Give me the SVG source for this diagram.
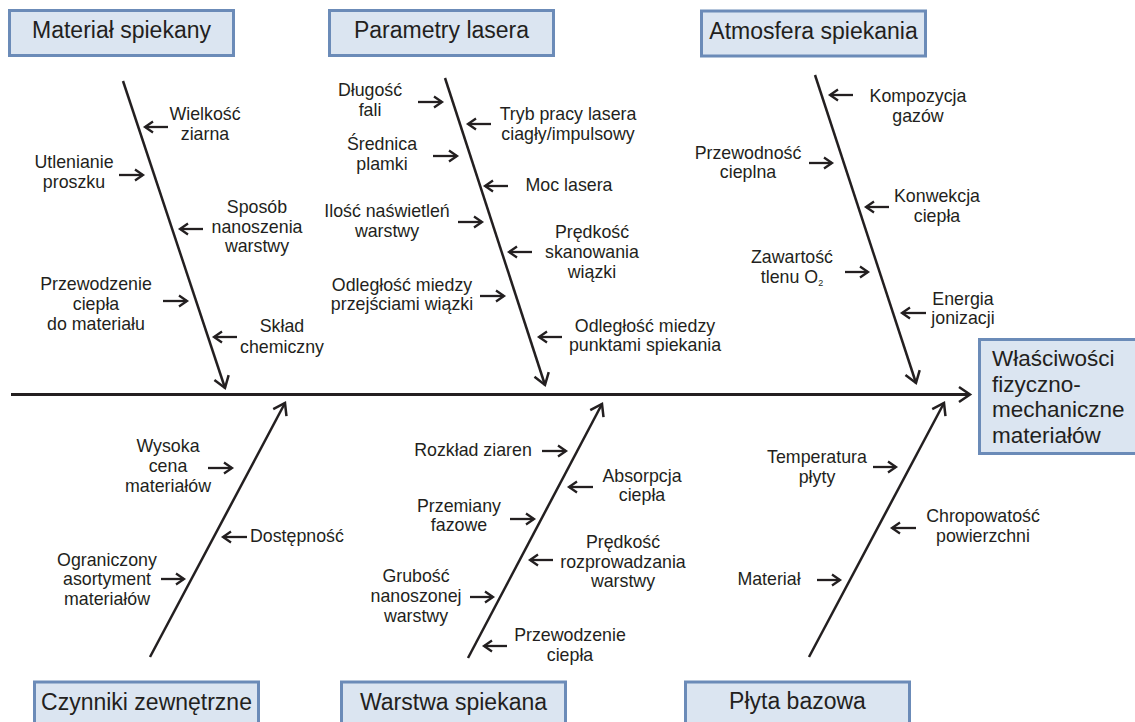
<svg xmlns="http://www.w3.org/2000/svg" width="1135" height="722" viewBox="0 0 1135 722">
<style>
.box{fill:#dbe5f1;stroke:#6b8bb8;stroke-width:3}
.title{font-family:"Liberation Sans",Arial,sans-serif;font-size:23px;fill:#231f20;text-anchor:middle}
.eff{font-family:"Liberation Sans",Arial,sans-serif;font-size:22.5px;fill:#231f20}
.lbl{font-family:"Liberation Sans",Arial,sans-serif;font-size:17.8px;fill:#231f20;text-anchor:middle}
.spine{stroke:#231f20;stroke-width:3;fill:none}
.bone{stroke:#231f20;stroke-width:2.5;fill:none}
.sm{stroke:#231f20;stroke-width:2.3;fill:none}
</style>
<defs>
<marker id="ah" markerUnits="userSpaceOnUse" markerWidth="20" markerHeight="20" refX="8" refY="0" orient="auto" overflow="visible">
<path d="M0,-5.5 L8,0 L0,5.5" fill="none" stroke="#231f20" stroke-width="2.3"/>
</marker>
<marker id="ahb" markerUnits="userSpaceOnUse" markerWidth="20" markerHeight="20" refX="11" refY="0" orient="auto" overflow="visible">
<path d="M0,-7.5 L11,0 L0,7.5" fill="none" stroke="#231f20" stroke-width="2.5"/>
</marker>
</defs>

<g id="connectors">
<line class="spine" x1="11" y1="394.5" x2="970" y2="394.5" marker-end="url(#ahb)"/>
<line class="bone" x1="123" y1="81" x2="225" y2="388" marker-end="url(#ahb)"/>
<line class="bone" x1="445" y1="78" x2="545" y2="385" marker-end="url(#ahb)"/>
<line class="bone" x1="815" y1="75" x2="916" y2="383" marker-end="url(#ahb)"/>
<line class="bone" x1="150" y1="657" x2="285" y2="403" marker-end="url(#ahb)"/>
<line class="bone" x1="468" y1="658" x2="602" y2="404" marker-end="url(#ahb)"/>
<line class="bone" x1="809" y1="657" x2="944" y2="403" marker-end="url(#ahb)"/>
<!-- small arrows: material -->
<line class="sm" x1="168" y1="127" x2="145" y2="127" marker-end="url(#ah)"/>
<line class="sm" x1="119" y1="175" x2="143" y2="175" marker-end="url(#ah)"/>
<line class="sm" x1="203" y1="229" x2="180" y2="229" marker-end="url(#ah)"/>
<line class="sm" x1="163" y1="301" x2="187" y2="301" marker-end="url(#ah)"/>
<line class="sm" x1="237" y1="337" x2="214" y2="337" marker-end="url(#ah)"/>
<!-- parametry -->
<line class="sm" x1="418" y1="102" x2="442" y2="102" marker-end="url(#ah)"/>
<line class="sm" x1="491" y1="124" x2="468" y2="124" marker-end="url(#ah)"/>
<line class="sm" x1="433" y1="156" x2="457" y2="156" marker-end="url(#ah)"/>
<line class="sm" x1="508" y1="186" x2="485" y2="186" marker-end="url(#ah)"/>
<line class="sm" x1="458" y1="222" x2="482" y2="222" marker-end="url(#ah)"/>
<line class="sm" x1="532" y1="252" x2="509" y2="252" marker-end="url(#ah)"/>
<line class="sm" x1="480" y1="296" x2="504" y2="296" marker-end="url(#ah)"/>
<line class="sm" x1="562" y1="337" x2="539" y2="337" marker-end="url(#ah)"/>
<!-- atmosfera -->
<line class="sm" x1="853" y1="95" x2="830" y2="95" marker-end="url(#ah)"/>
<line class="sm" x1="809" y1="163" x2="832" y2="163" marker-end="url(#ah)"/>
<line class="sm" x1="889" y1="207" x2="866" y2="207" marker-end="url(#ah)"/>
<line class="sm" x1="845" y1="272" x2="868" y2="272" marker-end="url(#ah)"/>
<line class="sm" x1="926" y1="313" x2="902" y2="313" marker-end="url(#ah)"/>
<!-- czynniki -->
<line class="sm" x1="208" y1="468" x2="232" y2="468" marker-end="url(#ah)"/>
<line class="sm" x1="247" y1="537" x2="223" y2="537" marker-end="url(#ah)"/>
<line class="sm" x1="161" y1="579" x2="184" y2="579" marker-end="url(#ah)"/>
<!-- warstwa -->
<line class="sm" x1="542" y1="451" x2="566" y2="451" marker-end="url(#ah)"/>
<line class="sm" x1="593" y1="487" x2="569" y2="487" marker-end="url(#ah)"/>
<line class="sm" x1="510" y1="519" x2="534" y2="519" marker-end="url(#ah)"/>
<line class="sm" x1="553" y1="560" x2="530" y2="560" marker-end="url(#ah)"/>
<line class="sm" x1="470" y1="597" x2="493" y2="597" marker-end="url(#ah)"/>
<line class="sm" x1="507" y1="646" x2="484" y2="646" marker-end="url(#ah)"/>
<!-- plyta -->
<line class="sm" x1="873" y1="467" x2="896" y2="467" marker-end="url(#ah)"/>
<line class="sm" x1="916" y1="528" x2="892" y2="528" marker-end="url(#ah)"/>
<line class="sm" x1="817" y1="580" x2="840" y2="580" marker-end="url(#ah)"/>
</g>

<g id="box-material">
<rect class="box" x="9.5" y="10.5" width="224" height="45"/>
<text class="title" x="121.5" y="38">Materiał spiekany</text>
</g>
<g id="box-parametry">
<rect class="box" x="329.5" y="10.5" width="224" height="45"/>
<text class="title" x="441.5" y="38">Parametry lasera</text>
</g>
<g id="box-atmosfera">
<rect class="box" x="701.5" y="11" width="224" height="45"/>
<text class="title" x="813.5" y="39">Atmosfera spiekania</text>
</g>
<g id="box-effect">
<rect class="box" x="979.5" y="339.5" width="160" height="114"/>
<text class="eff" x="992" y="366">Właściwości</text>
<text class="eff" x="992" y="392">fizyczno-</text>
<text class="eff" x="992" y="417">mechaniczne</text>
<text class="eff" x="992" y="443">materiałów</text>
</g>
<g id="box-czynniki">
<rect class="box" x="34.5" y="682" width="224" height="50"/>
<text class="title" x="146.5" y="710">Czynniki zewnętrzne</text>
</g>
<g id="box-warstwa">
<rect class="box" x="341.5" y="682" width="224" height="50"/>
<text class="title" x="453.5" y="710">Warstwa spiekana</text>
</g>
<g id="box-plyta">
<rect class="box" x="685.5" y="682" width="224" height="50"/>
<text class="title" x="797.5" y="709">Płyta bazowa</text>
</g>

<g id="labels-material">
<text class="lbl" x="205" y="120">Wielkość</text><text class="lbl" x="205" y="140">ziarna</text>
<text class="lbl" x="74" y="168">Utlenianie</text><text class="lbl" x="74" y="188">proszku</text>
<text class="lbl" x="257" y="213">Sposób</text><text class="lbl" x="257" y="233">nanoszenia</text><text class="lbl" x="257" y="252">warstwy</text>
<text class="lbl" x="96" y="290">Przewodzenie</text><text class="lbl" x="96" y="310">ciepła</text><text class="lbl" x="96" y="330">do materiału</text>
<text class="lbl" x="282" y="332">Skład</text><text class="lbl" x="282" y="353">chemiczny</text>
</g>
<g id="labels-parametry">
<text class="lbl" x="370" y="96">Długość</text><text class="lbl" x="370" y="116">fali</text>
<text class="lbl" x="568" y="120">Tryb pracy lasera</text><text class="lbl" x="568" y="140">ciagły/impulsowy</text>
<text class="lbl" x="382" y="150">Średnica</text><text class="lbl" x="382" y="170">plamki</text>
<text class="lbl" x="569" y="191">Moc lasera</text>
<text class="lbl" x="387" y="217">Ilość naświetleń</text><text class="lbl" x="387" y="237">warstwy</text>
<text class="lbl" x="592" y="238">Prędkość</text><text class="lbl" x="592" y="258">skanowania</text><text class="lbl" x="592" y="278">wiązki</text>
<text class="lbl" x="402" y="291">Odległość miedzy</text><text class="lbl" x="402" y="310">przejściami wiązki</text>
<text class="lbl" x="645" y="332">Odległość miedzy</text><text class="lbl" x="645" y="351">punktami spiekania</text>
</g>
<g id="labels-atmosfera">
<text class="lbl" x="918" y="102">Kompozycja</text><text class="lbl" x="918" y="122">gazów</text>
<text class="lbl" x="748" y="159">Przewodność</text><text class="lbl" x="748" y="178">cieplna</text>
<text class="lbl" x="937" y="202">Konwekcja</text><text class="lbl" x="937" y="222">ciepła</text>
<text class="lbl" x="792" y="263">Zawartość</text><text class="lbl" x="792" y="283">tlenu O<tspan font-size="9" dy="3">2</tspan></text>
<text class="lbl" x="963" y="305">Energia</text><text class="lbl" x="963" y="324">jonizacji</text>
</g>
<g id="labels-czynniki">
<text class="lbl" x="168" y="452">Wysoka</text><text class="lbl" x="168" y="472">cena</text><text class="lbl" x="168" y="492">materiałów</text>
<text class="lbl" x="250" y="542" style="text-anchor:start">Dostępność</text>
<text class="lbl" x="107" y="566">Ograniczony</text><text class="lbl" x="107" y="585">asortyment</text><text class="lbl" x="107" y="605">materiałów</text>
</g>
<g id="labels-warstwa">
<text class="lbl" x="473" y="456">Rozkład ziaren</text>
<text class="lbl" x="642" y="482">Absorpcja</text><text class="lbl" x="642" y="501">ciepła</text>
<text class="lbl" x="459" y="512">Przemiany</text><text class="lbl" x="459" y="531">fazowe</text>
<text class="lbl" x="623" y="548">Prędkość</text><text class="lbl" x="623" y="568">rozprowadzania</text><text class="lbl" x="623" y="587">warstwy</text>
<text class="lbl" x="416" y="582">Grubość</text><text class="lbl" x="416" y="602">nanoszonej</text><text class="lbl" x="416" y="622">warstwy</text>
<text class="lbl" x="570" y="641">Przewodzenie</text><text class="lbl" x="570" y="661">ciepła</text>
</g>
<g id="labels-plyta">
<text class="lbl" x="817" y="463">Temperatura</text><text class="lbl" x="817" y="483">płyty</text>
<text class="lbl" x="983" y="522">Chropowatość</text><text class="lbl" x="983" y="542">powierzchni</text>
<text class="lbl" x="769" y="585">Materiał</text>
</g>
</svg>
